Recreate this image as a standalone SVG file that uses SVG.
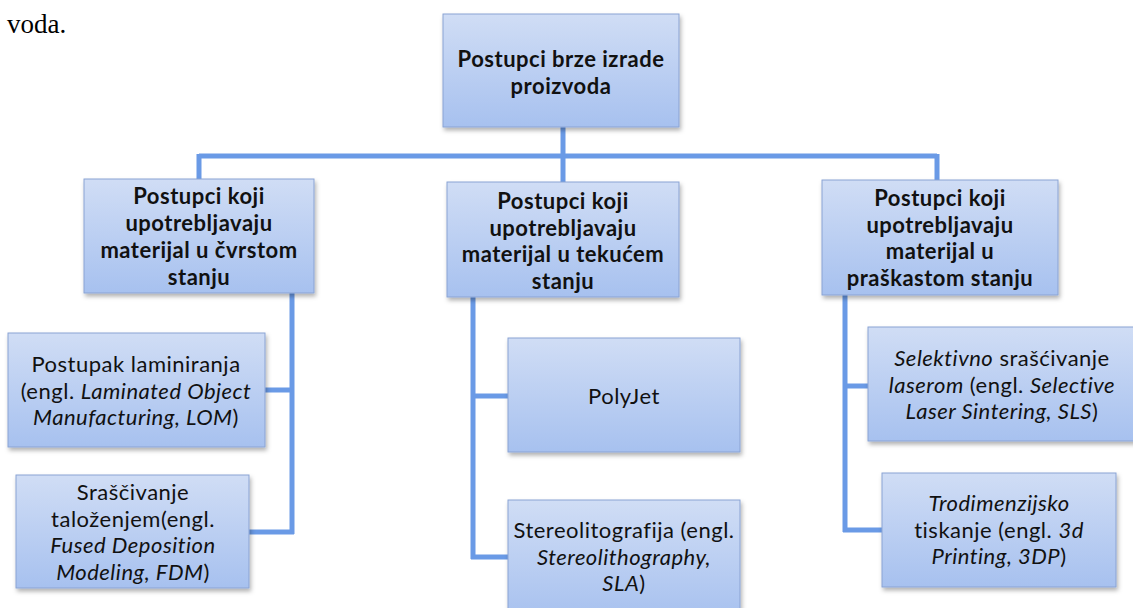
<svg xmlns="http://www.w3.org/2000/svg" width="1133" height="608" viewBox="0 0 1133 608">
<defs>
<linearGradient id="g" x1="0" y1="0" x2="0" y2="1">
<stop offset="0" stop-color="#d0ddf5"/>
<stop offset="1" stop-color="#a7c1ef"/>
</linearGradient>
<filter id="sh" x="-10%" y="-10%" width="125%" height="130%">
<feDropShadow dx="1.5" dy="3" stdDeviation="2" flood-color="#000" flood-opacity="0.3"/>
</filter>
<style>
.box{fill:url(#g);stroke:#8aa3d3;stroke-width:1;filter:url(#sh)}
.t{font-family:Lato,"Liberation Sans",sans-serif;font-size:22px;letter-spacing:0.5px;fill:#111;text-anchor:middle}
.b{font-weight:bold}
.i{font-style:italic}
.c{fill:none;stroke:#6a9ae6;stroke-width:5}
</style>
</defs>
<text x="7" y="33" font-family="'Liberation Serif',serif" font-size="27" fill="#000">voda.</text>
<g id="connectors">
<path class="c" d="M563,127 V156 M199,156 H937 M199,154 V179 M563,156 V182 M937,154 V180"/>
<path class="c" d="M292,293 V534 M265,390 H294 M249,532 H294"/>
<path class="c" d="M473,297 V559 M471,396 H508 M471,557 H508"/>
<path class="c" d="M845,295 V532 M843,386 H868 M843,530 H882"/>
</g>
<g id="root">
<rect class="box" x="443" y="14" width="236" height="113"/>
<text class="t b" x="561" y="67">Postupci brze izrade</text>
<text class="t b" x="561" y="94">proizvoda</text>
</g>
<g id="solid">
<rect class="box" x="84" y="179" width="230" height="114"/>
<text class="t b" x="199" y="204">Postupci koji</text>
<text class="t b" x="199" y="231">upotrebljavaju</text>
<text class="t b" x="199" y="258">materijal u čvrstom</text>
<text class="t b" x="199" y="285">stanju</text>
</g>
<g id="liquid">
<rect class="box" x="447" y="182" width="232" height="115"/>
<text class="t b" x="563" y="209">Postupci koji</text>
<text class="t b" x="563" y="235.5">upotrebljavaju</text>
<text class="t b" x="563" y="262">materijal u tekućem</text>
<text class="t b" x="563" y="288.5">stanju</text>
</g>
<g id="powder">
<rect class="box" x="822" y="180" width="236" height="115"/>
<text class="t b" x="940" y="206">Postupci koji</text>
<text class="t b" x="940" y="232.5">upotrebljavaju</text>
<text class="t b" x="940" y="259">materijal u</text>
<text class="t b" x="940" y="285.5">praškastom stanju</text>
</g>
<g id="lom">
<rect class="box" x="8" y="333" width="257" height="114"/>
<text class="t" x="136" y="372">Postupak laminiranja</text>
<text class="t" x="136" y="398.5">(engl. <tspan class="i">Laminated Object</tspan></text>
<text class="t" x="136" y="425">
<tspan class="i">Manufacturing, LOM</tspan>)</text>
</g>
<g id="fdm">
<rect class="box" x="16" y="475" width="233" height="113"/>
<text class="t" x="133" y="500">Sraščivanje</text>
<text class="t" x="133" y="526.5">taloženjem(engl.</text>
<text class="t i" x="133" y="553">Fused Deposition</text>
<text class="t" x="133" y="579.5"><tspan class="i">Modeling, FDM</tspan>)</text>
</g>
<g id="polyjet">
<rect class="box" x="508" y="338" width="232" height="114"/>
<text class="t" x="624" y="404">PolyJet</text>
</g>
<g id="sla">
<rect class="box" x="508" y="500" width="232" height="120"/>
<text class="t" x="624" y="538">Stereolitografija (engl.</text>
<text class="t i" x="624" y="564.5">Stereolithography,</text>
<text class="t" x="624" y="591"><tspan class="i">SLA</tspan>)</text>
</g>
<g id="sls">
<rect class="box" x="868" y="327" width="275" height="114"/>
<text class="t" x="1002" y="366"><tspan class="i">Selektivno</tspan> srašćivanje</text>
<text class="t" x="1002" y="392.5"><tspan class="i">laserom</tspan> (engl. <tspan class="i">Selective</tspan></text>
<text class="t" x="1002" y="419"><tspan class="i">Laser Sintering, SLS</tspan>)</text>
</g>
<g id="tdp">
<rect class="box" x="882" y="473" width="234" height="114"/>
<text class="t i" x="999" y="511">Trodimenzijsko</text>
<text class="t" x="999" y="537.5">tiskanje (engl. <tspan class="i">3d</tspan></text>
<text class="t" x="999" y="564"><tspan class="i">Printing, 3DP</tspan>)</text>
</g>
</svg>
